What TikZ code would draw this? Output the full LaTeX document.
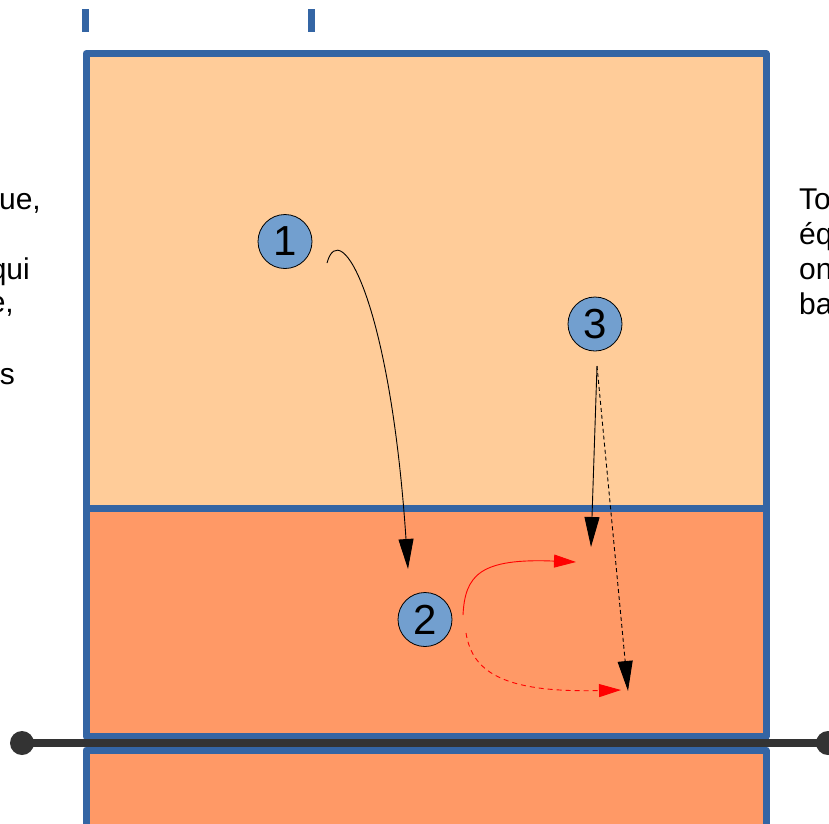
\documentclass[tikz,border=0pt]{standalone}
\usepackage{fontspec}
\setmainfont{Liberation Sans}
\usetikzlibrary{arrows.meta}
\definecolor{courtblue}{HTML}{3465A4}
\definecolor{lightcourt}{HTML}{FFCC99}
\definecolor{darkcourt}{HTML}{FF9966}
\definecolor{playerblue}{HTML}{729FCF}
\definecolor{netgray}{HTML}{333333}
\begin{document}
\begin{tikzpicture}[x=1pt,y=-1pt,
  courtline/.style={draw=courtblue,line width=7pt,line join=round},
  tickmark/.style={draw=courtblue,line width=7pt},
  player/.style={circle,draw=black,line width=0.8pt,fill=playerblue,minimum size=54pt,inner sep=0pt,font=\fontsize{42}{42}\selectfont},
  sidetext/.style={font=\fontsize{30}{35}\selectfont,inner sep=0pt},
  netend/.style={circle,fill=netgray,minimum size=24pt,inner sep=0pt},
  move/.style={line width=0.9pt,-{Triangle[length=30pt,width=15pt]}},
  pass/.style={red,line width=0.9pt,-{Triangle[length=22pt,width=13pt]}},
]
\useasboundingbox (0,0) rectangle (829,823);
\fill[white] (0,0) rectangle (829,823);
% side texts (cut by the frame)
\node[sidetext,anchor=base east] (l1) at (41,209) {ue,};
\node[sidetext,anchor=base east] (l2) at (30,279) {qui};
\node[sidetext,anchor=base east] (l3) at (14,312) {e,};
\node[sidetext,anchor=base east] (l4) at (15,384) {s};
\node[sidetext,anchor=base west] (r1) at (799,209) {To};
\node[sidetext,anchor=base west] (r2) at (799,244) {éq};
\node[sidetext,anchor=base west] (r3) at (799,279) {on};
\node[sidetext,anchor=base west] (r4) at (799,314) {ba};
% ticks
\draw[tickmark] (85.5,9) -- (85.5,32);
\draw[tickmark] (311.5,9) -- (311.5,32);
% courts
\fill[lightcourt] (86,53.5) rectangle (766,508.5);
\fill[darkcourt] (86,508.5) rectangle (766,736);
\fill[darkcourt] (86,750) rectangle (766,840);
\draw[courtline] (86,53.5) rectangle (766,736);
\draw[courtline] (86,508.5) -- (766,508.5);
\draw[courtline] (86,750) rectangle (766,840);
% net
\node[netend] (netL) at (22,743) {};
\node[netend] (netR) at (828,743) {};
\draw[netgray,line width=8pt] (netL.center) -- (netR.center);
% players
\node[player] (p1) at (285,241.5) {1};
\node[player] (p2) at (425,619.5) {2};
\node[player] (p3) at (595,324) {3};
% movements
\coordinate (a1s) at (327,263);
\coordinate (a1e) at (408,569);
\draw[move] (a1s) .. controls (340,215) and (390,300) .. (a1e);
\coordinate (a3s) at (597,366);
\coordinate (a3e) at (591,547);
\coordinate (a3d) at (628,691);
\draw[move] (a3s) -- (a3e);
\draw[move,dash pattern=on 4pt off 3pt] (a3s) -- (a3d);
\coordinate (b1s) at (463,615);
\coordinate (b1e) at (576,562);
\coordinate (b2s) at (466,633);
\coordinate (b2e) at (621,690);
\draw[pass] (b1s) .. controls (465,575) and (480,558) .. (b1e);
\draw[pass,dash pattern=on 5pt off 4pt] (b2s) .. controls (472,670) and (500,693) .. (b2e);
\end{tikzpicture}
\end{document}
